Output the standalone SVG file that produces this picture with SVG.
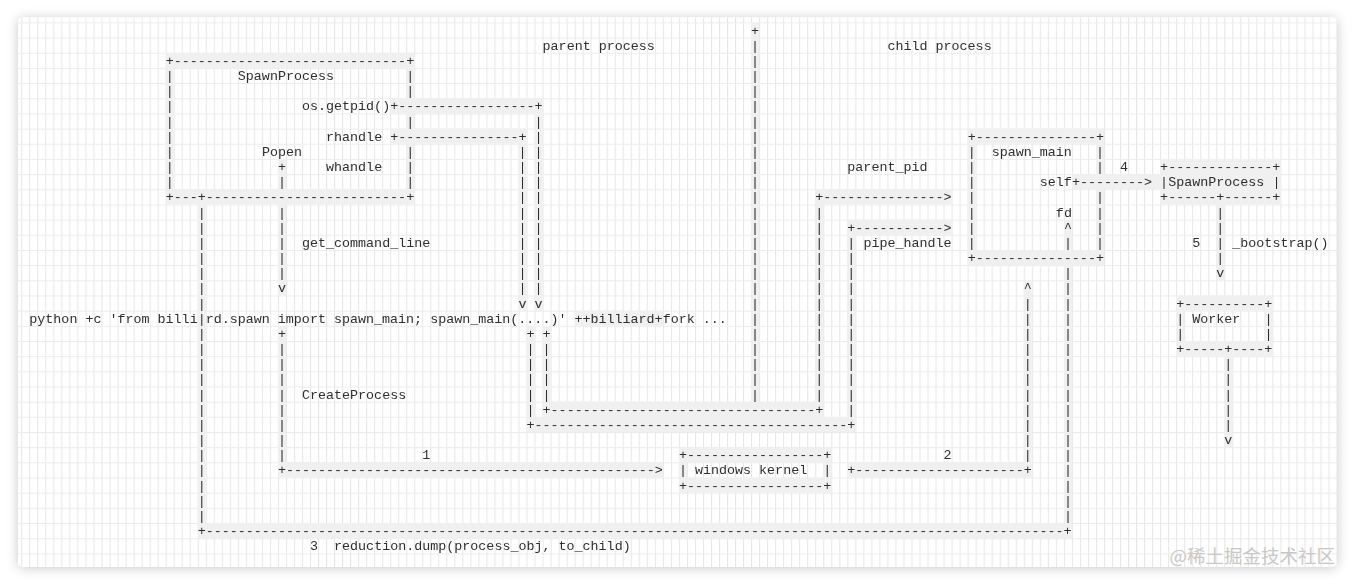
<svg xmlns="http://www.w3.org/2000/svg" width="1355" height="585" viewBox="0 0 1355 585">
<style>
.t{font-family:"Liberation Mono","Courier New",monospace;font-size:13.364px;fill:#2e2e2e;white-space:pre}
.b{fill:#f0f0f0}
.wm{font-family:"Noto Sans CJK SC","Noto Sans",sans-serif;font-size:18.5px;fill:#c8c8c8}
</style>
<defs>
<filter id="sh" x="-5%" y="-10%" width="110%" height="120%">
<feDropShadow dx="0" dy="1" stdDeviation="6" flood-color="#000" flood-opacity="0.22"/>
</filter>
<pattern id="gp" x="29.3" y="22.415" width="8.02" height="15.17" patternUnits="userSpaceOnUse">
<path d="M0.5 0V15.17" stroke="#e6e6e6" stroke-width="1" fill="none"/>
<path d="M0 0.5H8.02" stroke="#ececec" stroke-width="1" fill="none"/>
</pattern>
</defs>
<rect width="1355" height="585" fill="#fff"/>
<rect x="18" y="17.5" width="1319" height="549.5" rx="5" fill="#fff" filter="url(#sh)"/>
<rect x="18" y="17.5" width="1319" height="549.5" rx="5" fill="url(#gp)"/>

<g id="bands">
<rect class="b" x="165.64" y="52.76" width="248.62" height="15.17"/>
<rect class="b" x="165.64" y="189.29" width="248.62" height="15.17"/>
<rect class="b" x="390.2" y="98.27" width="152.38" height="15.17"/>
<rect class="b" x="390.2" y="128.61" width="136.34" height="15.17"/>
<rect class="b" x="967.64" y="128.61" width="136.34" height="15.17"/>
<rect class="b" x="967.64" y="249.97" width="136.34" height="15.17"/>
<rect class="b" x="1160.12" y="158.95" width="120.3" height="15.17"/>
<rect class="b" x="1071.9" y="174.12" width="208.52" height="15.17"/>
<rect class="b" x="1160.12" y="189.29" width="120.3" height="15.17"/>
<rect class="b" x="815.26" y="189.29" width="136.34" height="15.17"/>
<rect class="b" x="847.34" y="219.63" width="104.26" height="15.17"/>
<rect class="b" x="1176.16" y="295.48" width="96.24" height="15.17"/>
<rect class="b" x="1176.16" y="340.99" width="96.24" height="15.17"/>
<rect class="b" x="542.58" y="401.67" width="280.7" height="15.17"/>
<rect class="b" x="526.54" y="416.84" width="328.82" height="15.17"/>
<rect class="b" x="678.92" y="447.18" width="152.38" height="15.17"/>
<rect class="b" x="678.92" y="477.52" width="152.38" height="15.17"/>
<rect class="b" x="277.92" y="462.35" width="384.96" height="15.17"/>
<rect class="b" x="847.34" y="462.35" width="184.46" height="15.17"/>
<rect class="b" x="197.72" y="523.03" width="874.18" height="15.17"/>
<rect class="b" x="574.66" y="310.65" width="88.22" height="15.17"/>
<rect class="b" x="165.64" y="67.93" width="8.02" height="121.36"/>
<rect class="b" x="406.24" y="67.93" width="8.02" height="121.36"/>
<rect class="b" x="751.1" y="22.42" width="8.02" height="379.25"/>
<rect class="b" x="534.56" y="113.44" width="8.02" height="197.21"/>
<rect class="b" x="518.52" y="143.78" width="8.02" height="166.87"/>
<rect class="b" x="277.92" y="158.95" width="8.02" height="136.53"/>
<rect class="b" x="277.92" y="325.82" width="8.02" height="136.53"/>
<rect class="b" x="197.72" y="204.46" width="8.02" height="318.57"/>
<rect class="b" x="526.54" y="325.82" width="8.02" height="91.02"/>
<rect class="b" x="542.58" y="325.82" width="8.02" height="75.85"/>
<rect class="b" x="815.26" y="204.46" width="8.02" height="197.21"/>
<rect class="b" x="847.34" y="234.8" width="8.02" height="182.04"/>
<rect class="b" x="967.64" y="143.78" width="8.02" height="106.19"/>
<rect class="b" x="1095.96" y="143.78" width="8.02" height="106.19"/>
<rect class="b" x="1063.88" y="219.63" width="8.02" height="30.34"/>
<rect class="b" x="1063.88" y="265.14" width="8.02" height="257.89"/>
<rect class="b" x="1023.78" y="280.31" width="8.02" height="182.04"/>
<rect class="b" x="1216.26" y="204.46" width="8.02" height="75.85"/>
<rect class="b" x="1224.28" y="356.16" width="8.02" height="91.02"/>
<rect class="b" x="1176.16" y="310.65" width="8.02" height="30.34"/>
<rect class="b" x="1264.38" y="310.65" width="8.02" height="30.34"/>
<rect class="b" x="678.92" y="462.35" width="8.02" height="15.17"/>
<rect class="b" x="823.28" y="462.35" width="8.02" height="15.17"/>
</g>

<g id="drawing" opacity="0.995">
<g id="labels">
<text class="t" x="542.58" y="49.67">parent process</text>
<text class="t" x="887.44" y="49.67">child process</text>
</g>

<g id="node-spawnprocess-parent">
<text class="t" x="165.64" y="64.84">+-----------------------------+</text>
<text class="t" x="165.64 165.64 165.64 165.64 165.64 165.64 165.64 165.64" y="80.01 95.18 110.35 125.52 140.69 155.86 171.03 186.2">||||||||</text>
<text class="t" x="406.24 406.24" y="80.01 95.18">||</text>
<text class="t" x="406.24" y="125.52">|</text>
<text class="t" x="406.24 406.24 406.24" y="155.86 171.03 186.2">|||</text>
<text class="t" x="165.64" y="201.37">+---+-------------------------+</text>
<text class="t" x="237.82" y="80.01">SpawnProcess</text>
<text class="t" x="301.98" y="110.35">os.getpid()</text>
<text class="t" x="326.04" y="140.69">rhandle</text>
<text class="t" x="261.88" y="155.86">Popen</text>
<text class="t" x="326.04" y="171.03">whandle</text>
</g>

<g id="node-command-line">
<text class="t" x="29.3" y="322.73">python +c 'from billi|rd.spawn import spawn_main; spawn_main(....)' ++billiard+fork ...</text>
</g>

<g id="node-windows-kernel">
<text class="t" x="678.92" y="459.26">+-----------------+</text>
<text class="t" x="678.92" y="474.43">|</text>
<text class="t" x="694.96" y="474.43">windows kernel</text>
<text class="t" x="823.28" y="474.43">|</text>
<text class="t" x="678.92" y="489.6">+-----------------+</text>
</g>

<g id="node-spawn-main">
<text class="t" x="967.64" y="140.69">+---------------+</text>
<text class="t" x="967.64 967.64 967.64 967.64 967.64 967.64 967.64" y="155.86 171.03 186.2 201.37 216.54 231.71 246.88">|||||||</text>
<text class="t" x="1095.96 1095.96" y="155.86 171.03">||</text>
<text class="t" x="1095.96 1095.96 1095.96 1095.96" y="201.37 216.54 231.71 246.88">||||</text>
<text class="t" x="967.64" y="262.05">+---------------+</text>
<text class="t" x="991.7" y="155.86">spawn_main</text>
<text class="t" x="1039.82" y="186.2">self</text>
<text class="t" x="1055.86" y="216.54">fd</text>
</g>

<g id="node-spawnprocess-child">
<text class="t" x="1160.12" y="171.03">+-------------+</text>
<text class="t" x="1160.12" y="186.2">|</text>
<text class="t" x="1168.14" y="186.2">SpawnProcess</text>
<text class="t" x="1272.4" y="186.2">|</text>
<text class="t" x="1160.12" y="201.37">+------+------+</text>
</g>

<g id="node-worker">
<text class="t" x="1176.16" y="307.56">+----------+</text>
<text class="t" x="1176.16 1176.16" y="322.73 337.9">||</text>
<text class="t" x="1192.2" y="322.73">Worker</text>
<text class="t" x="1264.38 1264.38" y="322.73 337.9">||</text>
<text class="t" x="1176.16" y="353.07">+-----+----+</text>
</g>

<g id="connectors">
<text class="t" x="751.1 751.1 751.1 751.1 751.1 751.1 751.1 751.1 751.1 751.1 751.1 751.1 751.1 751.1 751.1 751.1 751.1 751.1 751.1 751.1 751.1 751.1 751.1 751.1 751.1" y="34.5 49.67 64.84 80.01 95.18 110.35 125.52 140.69 155.86 171.03 186.2 201.37 216.54 231.71 246.88 262.05 277.22 292.39 307.56 322.73 337.9 353.07 368.24 383.41 398.58">+||||||||||||||||||||||||</text>
<text class="t" x="390.2" y="110.35">+-----------------+</text>
<text class="t" x="534.56 534.56 534.56 534.56 534.56 534.56 534.56 534.56 534.56 534.56 534.56 534.56 534.56" y="125.52 140.69 155.86 171.03 186.2 201.37 216.54 231.71 246.88 262.05 277.22 292.39 307.56">||||||||||||v</text>
<text class="t" x="390.2" y="140.69">+---------------+</text>
<text class="t" x="518.52 518.52 518.52 518.52 518.52 518.52 518.52 518.52 518.52 518.52 518.52" y="155.86 171.03 186.2 201.37 216.54 231.71 246.88 262.05 277.22 292.39 307.56">||||||||||v</text>
<text class="t" x="277.92 277.92" y="171.03 186.2">+|</text>
<text class="t" x="277.92 277.92 277.92 277.92 277.92 277.92" y="216.54 231.71 246.88 262.05 277.22 292.39">|||||v</text>
<text class="t" x="301.98" y="246.88">get_command_line</text>
<text class="t" x="277.92 277.92 277.92 277.92 277.92 277.92 277.92 277.92 277.92" y="337.9 353.07 368.24 383.41 398.58 413.75 428.92 444.09 459.26">+||||||||</text>
<text class="t" x="301.98" y="398.58">CreateProcess</text>
<text class="t" x="422.28" y="459.26">1</text>
<text class="t" x="277.92" y="474.43">+---------------------------------------------->
</text>
<text class="t" x="197.72 197.72 197.72 197.72 197.72 197.72 197.72" y="216.54 231.71 246.88 262.05 277.22 292.39 307.56">|||||||</text>
<text class="t" x="197.72 197.72 197.72 197.72 197.72 197.72 197.72 197.72 197.72 197.72 197.72 197.72 197.72" y="337.9 353.07 368.24 383.41 398.58 413.75 428.92 444.09 459.26 474.43 489.6 504.77 519.94">|||||||||||||</text>
<text class="t" x="197.72" y="535.11">+-----------------------------------------------------------------------------------------------------------+</text>
<text class="t" x="310" y="550.28">3</text>
<text class="t" x="334.06" y="550.28">reduction.dump(process_obj, to_child)</text>
<text class="t" x="526.54 526.54 526.54 526.54 526.54 526.54" y="337.9 353.07 368.24 383.41 398.58 413.75">+|||||</text>
<text class="t" x="542.58 542.58 542.58 542.58 542.58" y="337.9 353.07 368.24 383.41 398.58">+||||</text>
<text class="t" x="542.58" y="413.75">+---------------------------------+</text>
<text class="t" x="526.54" y="428.92">+---------------------------------------+</text>
<text class="t" x="815.26 815.26 815.26 815.26 815.26 815.26 815.26 815.26 815.26 815.26 815.26 815.26 815.26" y="216.54 231.71 246.88 262.05 277.22 292.39 307.56 322.73 337.9 353.07 368.24 383.41 398.58">|||||||||||||</text>
<text class="t" x="815.26" y="201.37">+--------------->
</text>
<text class="t" x="847.34" y="171.03">parent_pid</text>
<text class="t" x="847.34 847.34 847.34 847.34 847.34 847.34 847.34 847.34 847.34 847.34 847.34 847.34" y="246.88 262.05 277.22 292.39 307.56 322.73 337.9 353.07 368.24 383.41 398.58 413.75">||||||||||||</text>
<text class="t" x="847.34" y="231.71">+----------->
</text>
<text class="t" x="863.38" y="246.88">pipe_handle</text>
<text class="t" x="1071.9" y="186.2">+-------->
</text>
<text class="t" x="1120.02" y="171.03">4</text>
<text class="t" x="1216.26 1216.26 1216.26 1216.26 1216.26" y="216.54 231.71 246.88 262.05 277.22">||||v</text>
<text class="t" x="1192.2" y="246.88">5</text>
<text class="t" x="1232.3" y="246.88">_bootstrap()</text>
<text class="t" x="1224.28 1224.28 1224.28 1224.28 1224.28 1224.28" y="368.24 383.41 398.58 413.75 428.92 444.09">|||||v</text>
<text class="t" x="1063.88 1063.88" y="231.71 246.88">^|</text>
<text class="t" x="1063.88 1063.88 1063.88 1063.88 1063.88 1063.88 1063.88 1063.88 1063.88 1063.88 1063.88 1063.88 1063.88 1063.88 1063.88 1063.88 1063.88" y="277.22 292.39 307.56 322.73 337.9 353.07 368.24 383.41 398.58 413.75 428.92 444.09 459.26 474.43 489.6 504.77 519.94">|||||||||||||||||</text>
<text class="t" x="1023.78 1023.78 1023.78 1023.78 1023.78 1023.78 1023.78 1023.78 1023.78 1023.78 1023.78 1023.78" y="292.39 307.56 322.73 337.9 353.07 368.24 383.41 398.58 413.75 428.92 444.09 459.26">^|||||||||||</text>
<text class="t" x="847.34" y="474.43">+---------------------+</text>
<text class="t" x="943.58" y="459.26">2</text>
</g>
</g>

<text class="wm" x="1335" y="563" text-anchor="end">@稀土掘金技术社区</text>
</svg>
